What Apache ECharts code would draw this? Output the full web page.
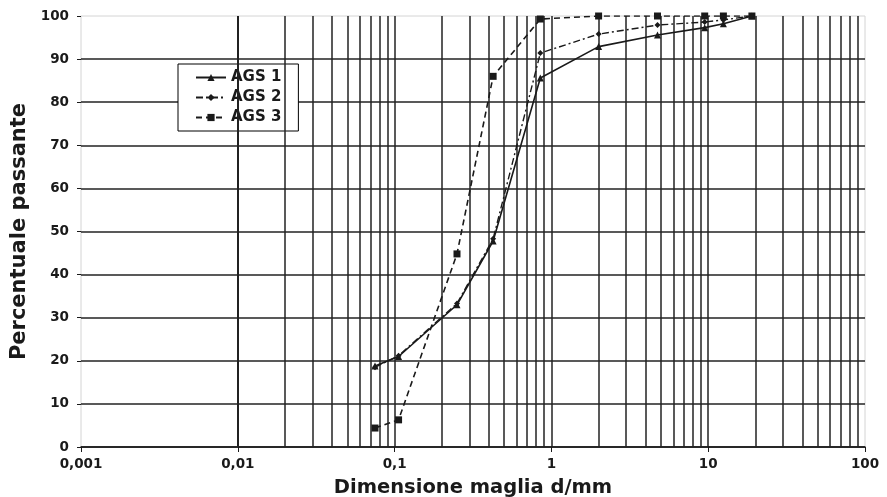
<!DOCTYPE html>
<html>
<head>
<meta charset="utf-8">
<script src="https://cdn.jsdelivr.net/npm/echarts@6/dist/echarts.min.js"></script>
<style>html,body{margin:0;padding:0;background:#fff}#c{width:887px;height:497px}</style>
</head>
<body>
<div id="c"></div>
<script>
// ---- data ----
const sieveSizes = [0.075, 0.106, 0.25, 0.425, 0.85, 2, 4.75, 9.5, 12.5, 19];
const ags1 = [18.8, 21.0, 33.0, 47.8, 85.6, 92.9, 95.6, 97.3, 98.2, 100];
const ags2 = [18.5, 21.2, 33.3, 48.3, 91.4, 95.8, 97.9, 98.6, 99.1, 100];
const ags3 = [4.4, 6.3, 44.8, 86.0, 99.3, 100, 100, 100, 100, 100];
const seriesNames = ['AGS 1', 'AGS 2', 'AGS 3'];
const xTickLabels = ['0,001', '0,01', '0,1', '1', '10', '100'];
const minorGridX = [0.002,0.003,0.004,0.005,0.006,0.007,0.008,0.009,
  0.02,0.03,0.04,0.05,0.06,0.07,0.08,0.09,
  0.2,0.3,0.4,0.5,0.6,0.7,0.8,0.9,
  2,3,4,5,6,7,8,9,
  20,30,40,50,60,70,80,90];
const xTitle = 'Dimensione maglia d/mm';
const yTitle = 'Percentuale passante';

const pairs = (vals) => sieveSizes.map((s, i) => [s, vals[i]]);
const ink = '#1a1a1a';
const gridInk = '#222';
const font = 'DejaVu Sans';

const chart = echarts.init(document.getElementById('c'), null, {renderer: 'canvas'});
chart.setOption({
  animation: false,
  backgroundColor: '#fff',
  grid: {left: 81, right: 22, top: 16, bottom: 50, containLabel: false, outerBoundsMode: 'none',
    show: true, borderColor: '#d4d4d4', borderWidth: 1, backgroundColor: '#fff'},
  legend: {
    data: seriesNames,
    orient: 'vertical',
    left: 178, top: 64,
    padding: [6, 17, 6, 17],
    itemGap: 5,
    itemWidth: 30, itemHeight: 9,
    borderColor: '#000', borderWidth: 1,
    backgroundColor: '#fff',
    textStyle: {fontFamily: font, fontSize: 15, fontWeight: 'bold', color: ink, lineHeight: 15}
  },
  xAxis: {
    type: 'log', logBase: 10, min: 0.001, max: 100,
    name: xTitle, nameLocation: 'middle', nameGap: 31,
    nameTextStyle: {fontFamily: font, fontSize: 19.5, fontWeight: 'bold', color: ink},
    axisLine: {show: true, lineStyle: {color: ink, width: 1.5}},
    axisTick: {show: true, length: 5, lineStyle: {color: ink}},
    axisLabel: {fontFamily: font, fontSize: 13.5, fontWeight: 'bold', color: ink, margin: 10,
      formatter: (v) => xTickLabels[Math.round(Math.log10(v)) + 3]},
    splitLine: {show: true, showMinLine: false, showMaxLine: false, lineStyle: {color: gridInk, width: 1.5}},
    minorTick: {show: false}, minorSplitLine: {show: false}
  },
  yAxis: {
    type: 'value', min: 0, max: 100, interval: 10,
    name: yTitle, nameLocation: 'middle', nameGap: 50, nameRotate: 90,
    nameTextStyle: {fontFamily: font, fontSize: 21, fontWeight: 'bold', color: ink},
    axisLine: {show: false},
    axisTick: {show: true, length: 4, lineStyle: {color: ink}},
    axisLabel: {fontFamily: font, fontSize: 13.5, fontWeight: 'bold', color: ink, margin: 12},
    splitLine: {show: true, showMaxLine: false, lineStyle: {color: gridInk, width: 1.5}}
  },
  series: [
    {
      name: '_grid', type: 'line', data: [], z: 1, silent: true,
      markLine: {silent: true, symbol: 'none', animation: false, label: {show: false},
        lineStyle: {color: gridInk, width: 1.5, type: 'solid'},
        data: minorGridX.map(v => ({xAxis: v}))}
    },
    {
      name: seriesNames[0], type: 'line', data: pairs(ags1), z: 5,
      symbol: 'triangle', symbolSize: 7,
      itemStyle: {color: ink}, lineStyle: {color: ink, width: 1.6, type: 'solid'}
    },
    {
      name: seriesNames[1], type: 'line', data: pairs(ags2), z: 5,
      symbol: 'diamond', symbolSize: 6,
      itemStyle: {color: ink}, lineStyle: {color: ink, width: 1.4, type: [7, 3, 2, 3]}
    },
    {
      name: seriesNames[2], type: 'line', data: pairs(ags3), z: 5,
      symbol: 'rect', symbolSize: 7,
      itemStyle: {color: ink}, lineStyle: {color: ink, width: 1.6, type: [6, 4]}
    }
  ]
});
</script>
</body>
</html>
